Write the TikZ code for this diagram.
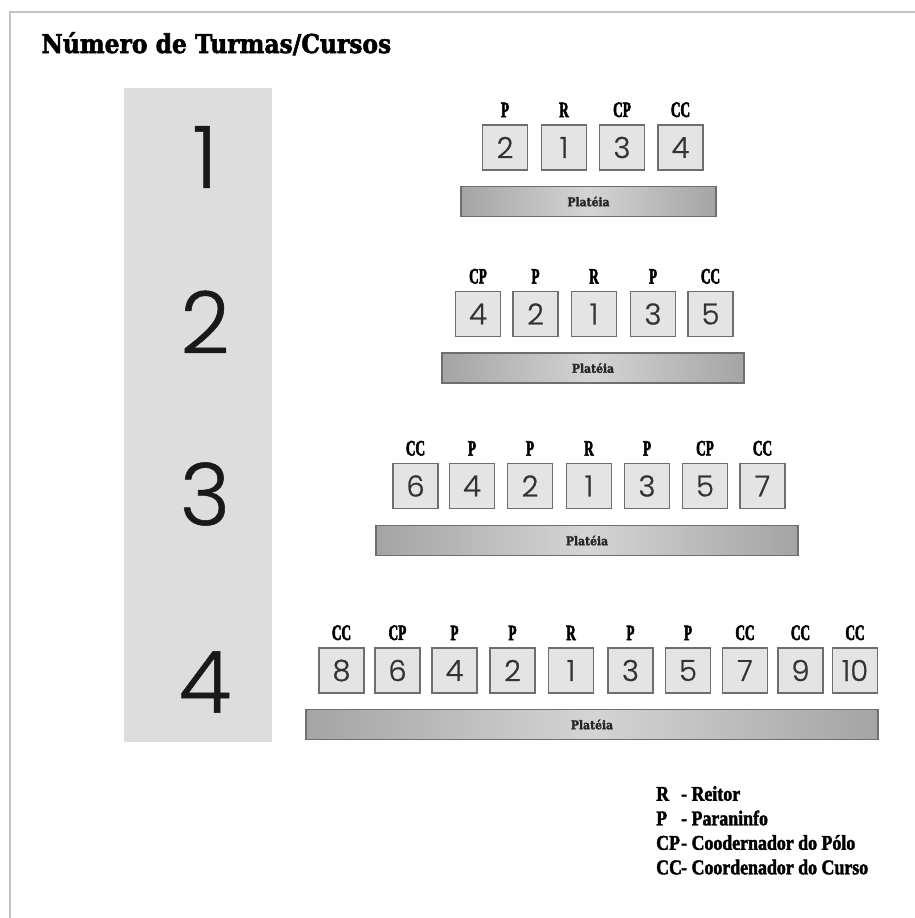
\documentclass[tikz,border=0pt]{standalone}
\usepackage{fontspec}
\setmainfont{Liberation Serif}
\newfontfamily\titlefont{DejaVu Serif Bold}[FakeStretch=0.9, FakeBold=2]
\newfontfamily\rolefont{Liberation Serif Bold}[FakeStretch=0.6, FakeBold=2.5]
\newfontfamily\keyfont{Liberation Serif Bold}[FakeStretch=0.85, FakeBold=2]
\newfontfamily\digitfont{Poppins}[UprightFont=* Light, FakeBold=0.6]
\newfontfamily\seatfont{Poppins}[UprightFont=* Light, FakeBold=0.8]

\definecolor{frameline}{HTML}{C4C4C4}
\definecolor{colfill}{HTML}{DDDDDD}
\definecolor{seatfill}{HTML}{E4E4E4}
\definecolor{seatline}{HTML}{6E6E6E}
\definecolor{barend}{HTML}{A4A4A4}
\definecolor{barmid}{HTML}{D4D4D4}

\begin{document}
\begin{tikzpicture}[x=1pt, y=-1pt,
    seat/.style={draw=seatline, fill=seatfill, line width=1.3pt, minimum size=45pt, inner sep=0pt,
                 text=black!80, font=\seatfont\fontsize{29}{29}\selectfont},
    every label/.style={font=\rolefont\fontsize{22}{22}\selectfont, inner sep=0pt},
    label distance=7pt,
    plat/.style={draw=seatline, line width=1.2pt, left color=barend, right color=barend, middle color=barmid,
                 minimum height=30pt, inner sep=0pt, text=black!85, font=\titlefont\fontsize{12}{12}\selectfont},
    bignum/.style={text=black!90, font=\digitfont\fontsize{86}{86}\selectfont}]
    \useasboundingbox (0,0) rectangle (915,918);
    \draw[frameline, line width=2pt] (915,12) -- (10,12) -- (10,918);

    \node[anchor=base west, font=\titlefont\fontsize{26}{26}\selectfont] (title) at (38,53) {Número de Turmas/Cursos};

    % coluna com o numero de turmas
    \fill[colfill] (124,88) rectangle (272,742);
    \node[bignum] (n1) at (205,157) {1};
    \node[bignum] (n2) at (205,322) {2};
    \node[bignum] (n3) at (205,494) {3};
    \node[bignum] (n4) at (205,682) {4};

    % 1 turma
    \node[seat, label=above:P] (a2) at (505,147.5) {2};
    \node[seat, label=above:R] (a1) at (564,147.5) {1};
    \node[seat, label=above:CP] (a3) at (622,147.5) {3};
    \node[seat, label=above:CC] (a4) at (680.5,147.5) {4};
    \node[plat, minimum width=255pt] (pa) at (588.5,201.5) {Platéia};

    % 2 turmas
    \node[seat, label=above:CP] (b4) at (478,314) {4};
    \node[seat, label=above:P] (b2) at (535.5,314) {2};
    \node[seat, label=above:R] (b1) at (594,314) {1};
    \node[seat, label=above:P] (b3) at (653,314) {3};
    \node[seat, label=above:CC] (b5) at (710.5,314) {5};
    \node[plat, minimum width=302pt] (pb) at (593,368) {Platéia};

    % 3 turmas
    \node[seat, label=above:CC] (c6) at (415.5,486) {6};
    \node[seat, label=above:P] (c4) at (472,486) {4};
    \node[seat, label=above:P] (c2) at (530,486) {2};
    \node[seat, label=above:R] (c1) at (589,486) {1};
    \node[seat, label=above:P] (c3) at (647,486) {3};
    \node[seat, label=above:CP] (c5) at (705,486) {5};
    \node[seat, label=above:CC] (c7) at (762.5,486) {7};
    \node[plat, minimum width=422pt] (pc) at (587,540.5) {Platéia};

    % 4 turmas
    \node[seat, label=above:CC] (d8) at (341.5,670.5) {8};
    \node[seat, label=above:CP] (d6) at (397.5,670.5) {6};
    \node[seat, label=above:P] (d4) at (454.5,670.5) {4};
    \node[seat, label=above:P] (d2) at (512.5,670.5) {2};
    \node[seat, label=above:R] (d1) at (571,670.5) {1};
    \node[seat, label=above:P] (d3) at (630.5,670.5) {3};
    \node[seat, label=above:P] (d5) at (688,670.5) {5};
    \node[seat, label=above:CC] (d7) at (745,670.5) {7};
    \node[seat, label=above:CC] (d9) at (800.5,670.5) {9};
    \node[seat, label=above:CC] (d10) at (855,670.5) {10};
    \node[plat, minimum width=572pt] (pd) at (592,724.5) {Platéia};

    % legenda
    \node[anchor=north west, align=left, inner sep=0pt, font=\keyfont\fontsize{21}{24.5}\selectfont] (key) at (656,786)
        {\makebox[25pt][l]{R}- Reitor\\
         \makebox[25pt][l]{P}- Paraninfo\\
         \makebox[25pt][l]{CP}- Coodernador do Pólo\\
         \makebox[25pt][l]{CC}- Coordenador do Curso};
\end{tikzpicture}
\end{document}
